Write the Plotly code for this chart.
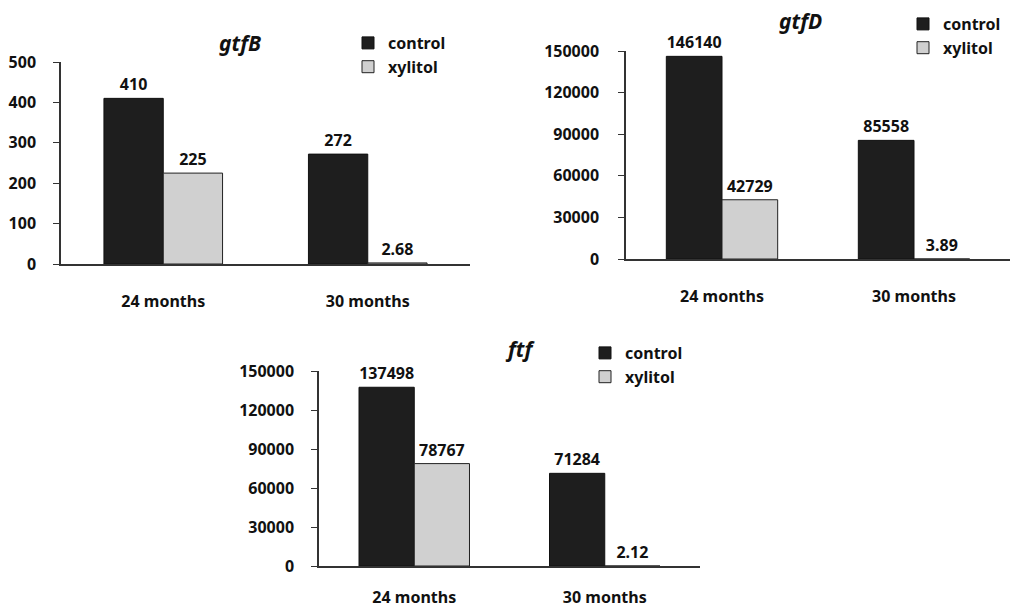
import plotly.graph_objects as go

categories = ["24 months", "30 months"]
gtfB_control = [410, 272]
gtfB_xylitol = [225, 2.68]
gtfD_control = [146140, 85558]
gtfD_xylitol = [42729, 3.89]
ftf_control = [137498, 71284]
ftf_xylitol = [78767, 2.12]
titles = ["gtfB", "gtfD", "ftf"]
y_ranges = [[0, 500], [0, 150000], [0, 150000]]
y_dticks = [100, 30000, 30000]

W, H = 1010, 614
FONT = "Noto Sans"
C_CTRL = "#1e1e1e"
C_XYL = "#d0d0d0"
AX = "#333333"
TXT = "#111111"

def px_x(a, b):
    return [a / W, b / W]

def px_y(top, bottom):
    return [(H - bottom) / H, (H - top) / H]

panels = [
    dict(x=px_x(61, 470), y=px_y(62, 264), ctrl=gtfB_control, xyl=gtfB_xylitol,
         title_xy=(240, 43), legend_xy=(348, 26), ystand=14, xstand=22),
    dict(x=px_x(626, 1010), y=px_y(51, 259), ctrl=gtfD_control, xyl=gtfD_xylitol,
         title_xy=(800, 21), legend_xy=(903, 7), ystand=16, xstand=22),
    dict(x=px_x(319, 700), y=px_y(371, 566), ctrl=ftf_control, xyl=ftf_xylitol,
         title_xy=(520, 349), legend_xy=(585, 336), ystand=14, xstand=16),
]

fig = go.Figure()
layout = {}
legend_names = ["legend", "legend2", "legend3"]
for i, p in enumerate(panels):
    n = "" if i == 0 else str(i + 1)
    xa, ya = "x" + n, "y" + n
    lg = legend_names[i]
    fig.add_trace(go.Bar(
        x=categories, y=p["ctrl"], name="control", xaxis=xa, yaxis=ya,
        marker=dict(color=C_CTRL, line=dict(color="#111111", width=1)),
        text=[str(v) for v in p["ctrl"]], textposition="outside", cliponaxis=False,
        textfont=dict(family=FONT, size=16, color=TXT, weight="bold"),
        legend=lg, showlegend=True,
    ))
    fig.add_trace(go.Bar(
        x=categories, y=p["xyl"], name="xylitol", xaxis=xa, yaxis=ya,
        marker=dict(color=C_XYL, line=dict(color="#222222", width=1)),
        text=[str(v) for v in p["xyl"]], textposition="outside", cliponaxis=False,
        textfont=dict(family=FONT, size=16, color=TXT, weight="bold"),
        legend=lg, showlegend=True,
    ))
    layout["xaxis" + n] = dict(
        domain=p["x"], anchor=ya, showline=True, linecolor=AX, linewidth=1.5,
        ticks="", ticklabelstandoff=p["xstand"], showgrid=False, zeroline=False,
        automargin=False,
        tickfont=dict(family=FONT, size=16, color=TXT, weight="bold"),
        fixedrange=True,
    )
    layout["yaxis" + n] = dict(
        domain=p["y"], anchor=xa, range=y_ranges[i], dtick=y_dticks[i],
        tickformat="d", automargin=False,
        showline=True, linecolor=AX, linewidth=1.5, ticks="outside", ticklen=6,
        tickcolor=AX, ticklabelstandoff=p["ystand"], showgrid=False, zeroline=False,
        tickfont=dict(family=FONT, size=16, color=TXT, weight="bold"),
        fixedrange=True,
    )
    layout[lg] = dict(
        x=p["legend_xy"][0] / W, y=1 - p["legend_xy"][1] / H,
        xref="container", yref="container",
        xanchor="left", yanchor="top", bgcolor="rgba(0,0,0,0)",
        font=dict(family=FONT, size=16, color=TXT, weight="bold"),
        itemwidth=30, tracegroupgap=0,
    )
    fig.add_annotation(
        x=p["title_xy"][0] / W, y=1 - p["title_xy"][1] / H, xref="paper", yref="paper",
        xanchor="center", yanchor="middle",
        text="<b><i>" + titles[i] + "</i></b>", showarrow=False,
        font=dict(family=FONT, size=21, color=TXT),
    )

fig.update_layout(
    width=W, height=H, margin=dict(l=0, r=0, t=0, b=0, autoexpand=False),
    paper_bgcolor="white", plot_bgcolor="white",
    barmode="group", bargap=0.42, bargroupgap=0,
    **layout,
)
fig.write_html(
    "out.html",
    config={"displayModeBar": False},
    post_script="document.body.style.margin='0px';document.body.style.overflow='hidden';",
)
